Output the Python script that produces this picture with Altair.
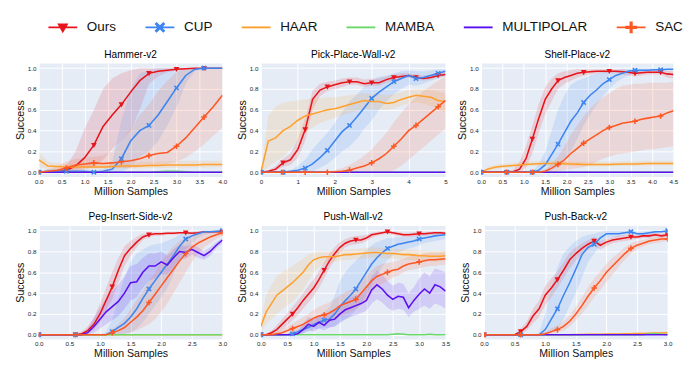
import math
import altair as alt
import pandas as pd

SERIES = ["Ours", "CUP", "HAAR", "MAMBA", "MULTIPOLAR", "SAC"]
COLORS = ["#E8141B", "#3D85F0", "#FFA02E", "#6BD96B", "#5B10F0", "#FF5722"]
MARKED = ["Ours", "CUP", "SAC"]
FONT = "Liberation Sans, Arial, sans-serif"


def grid(step, n):
    return [round(i * step, 3) for i in range(n)]


def Z(n):
    return [0.0] * n


# ---------------- Hammer-v2 (step 0.2) ----------------
hammer_x = grid(0.2, 21)
hammer = {
    "Ours": ([0,0,0.005,0.02,0.06,0.14,0.26,0.44,0.55,0.65,0.77,0.88,0.95,0.97,0.98,0.99,0.995,1,1,1,1],
             [0,0,0,0,0.01,0.03,0.05,0.12,0.22,0.3,0.4,0.6,0.85,0.92,0.96,0.98,0.99,1,1,1,1],
             [0,0,0.02,0.06,0.2,0.42,0.6,0.8,0.9,0.95,0.98,1,1,1,1,1,1,1,1,1,1]),
    "CUP": ([0,0.01,0.01,0.01,0.01,0.01,0.0,0.01,0.03,0.13,0.3,0.4,0.45,0.55,0.68,0.81,0.93,0.99,1,1,1],
            [0,0,0,0,0,0,0,0,0,0,0.05,0.15,0.2,0.3,0.45,0.62,0.85,0.97,1,1,1],
            [0,0.03,0.03,0.03,0.03,0.03,0.02,0.03,0.1,0.5,0.8,0.95,0.98,1,1,1,1,1,1,1,1]),
    "HAAR": ([0.12,0.06,0.055,0.05,0.05,0.05,0.05,0.05,0.055,0.06,0.06,0.06,0.065,0.065,0.07,0.07,0.07,0.07,0.075,0.075,0.075],
             [0.05,0.03,0.03,0.03,0.03,0.03,0.03,0.03,0.03,0.035,0.035,0.035,0.04,0.04,0.04,0.04,0.045,0.045,0.045,0.05,0.05],
             [0.2,0.1,0.09,0.08,0.08,0.08,0.08,0.08,0.085,0.09,0.09,0.095,0.1,0.1,0.1,0.105,0.11,0.11,0.11,0.11,0.11]),
    "MAMBA": (Z(13) + [0.005,0.01,0.01,0.005] + Z(4), Z(21), Z(13) + [0.015,0.02,0.02,0.015] + Z(4)),
    "MULTIPOLAR": (Z(21), Z(21), Z(21)),
    "SAC": ([0,0.01,0.02,0.04,0.07,0.08,0.09,0.085,0.09,0.1,0.11,0.13,0.16,0.18,0.19,0.25,0.33,0.43,0.53,0.63,0.74],
            [0,0,0,0.01,0.03,0.04,0.04,0.04,0.04,0.04,0.04,0.05,0.06,0.07,0.08,0.1,0.14,0.2,0.27,0.35,0.43],
            [0,0.03,0.06,0.1,0.13,0.14,0.15,0.16,0.2,0.3,0.42,0.55,0.65,0.78,0.88,0.96,1,1,1,1,1]),
}

# ---------------- Pick-Place-Wall-v2 (step 0.2) ----------------
ppw_x = grid(0.2, 26)
ppw = {
    "Ours": ([0,0.01,0.03,0.09,0.12,0.22,0.41,0.7,0.79,0.82,0.84,0.86,0.87,0.87,0.85,0.86,0.86,0.89,0.91,0.92,0.93,0.91,0.9,0.91,0.93,0.94],
             [0,0,0.01,0.05,0.07,0.14,0.3,0.6,0.73,0.78,0.8,0.82,0.84,0.84,0.82,0.83,0.83,0.86,0.88,0.9,0.91,0.89,0.88,0.89,0.91,0.92],
             [0,0.02,0.06,0.13,0.18,0.32,0.52,0.78,0.85,0.87,0.88,0.9,0.91,0.91,0.89,0.9,0.9,0.92,0.94,0.95,0.95,0.94,0.93,0.94,0.96,0.96]),
    "CUP": ([0,0,0,0,0.01,0.02,0.04,0.08,0.14,0.21,0.3,0.39,0.45,0.53,0.62,0.71,0.77,0.82,0.87,0.9,0.93,0.9,0.91,0.93,0.95,0.97],
            [0,0,0,0,0,0,0,0.01,0.04,0.08,0.14,0.2,0.25,0.32,0.42,0.5,0.6,0.68,0.75,0.8,0.84,0.83,0.85,0.88,0.9,0.93],
            [0,0,0,0,0.02,0.06,0.12,0.22,0.3,0.38,0.47,0.58,0.68,0.75,0.82,0.88,0.92,0.93,0.95,0.97,0.98,0.97,0.97,0.98,0.99,0.99]),
    "HAAR": ([0,0.3,0.33,0.4,0.44,0.5,0.54,0.56,0.58,0.6,0.61,0.63,0.65,0.67,0.69,0.68,0.68,0.66,0.67,0.7,0.72,0.74,0.73,0.72,0.69,0.68],
             [0,0.05,0.1,0.15,0.22,0.3,0.38,0.43,0.47,0.5,0.52,0.55,0.57,0.59,0.61,0.6,0.6,0.6,0.61,0.64,0.66,0.67,0.66,0.64,0.6,0.58],
             [0,0.55,0.63,0.67,0.68,0.69,0.7,0.71,0.71,0.72,0.72,0.73,0.74,0.75,0.76,0.75,0.75,0.74,0.75,0.77,0.79,0.8,0.8,0.79,0.77,0.76]),
    "MAMBA": (Z(26), Z(26), Z(26)),
    "MULTIPOLAR": (Z(26), Z(26), Z(26)),
    "SAC": (Z(10) + [0.005,0.01,0.02,0.04,0.06,0.09,0.13,0.18,0.25,0.32,0.4,0.45,0.51,0.57,0.63,0.69],
            Z(18) + [0.02,0.06,0.12,0.18,0.24,0.3,0.36,0.42],
            Z(10) + [0.02,0.04,0.07,0.11,0.16,0.22,0.3,0.38,0.48,0.57,0.65,0.72,0.78,0.83,0.88,0.92]),
}

# ---------------- Shelf-Place-v2 (step 0.15) ----------------
shelf_x = grid(0.15, 31)
shelf = {
    "Ours": ([0,0,0,0,0,0.005,0.03,0.13,0.32,0.52,0.7,0.8,0.88,0.91,0.93,0.95,0.96,0.965,0.97,0.97,0.97,0.97,0.965,0.96,0.95,0.955,0.96,0.96,0.96,0.945,0.94],
             [0,0,0,0,0,0,0,0.04,0.18,0.38,0.56,0.68,0.8,0.85,0.88,0.91,0.93,0.94,0.95,0.95,0.95,0.95,0.94,0.93,0.92,0.93,0.94,0.94,0.94,0.91,0.9],
             [0,0,0,0,0.01,0.03,0.1,0.25,0.45,0.66,0.82,0.9,0.95,0.97,0.98,0.99,0.99,0.99,0.99,0.99,0.99,0.99,0.99,0.985,0.98,0.98,0.98,0.985,0.98,0.975,0.97]),
    "CUP": (Z(9) + [0.02,0.07,0.17,0.27,0.38,0.49,0.57,0.67,0.74,0.79,0.85,0.89,0.93,0.95,0.97,0.98,0.98,0.98,0.985,0.985,0.99,0.99],
            Z(9) + [0,0,0.02,0.05,0.12,0.2,0.32,0.45,0.55,0.65,0.73,0.8,0.86,0.9,0.93,0.95,0.96,0.96,0.97,0.97,0.98,0.98],
            Z(8) + [0.01,0.08,0.2,0.4,0.6,0.74,0.84,0.88,0.9,0.93,0.95,0.96,0.97,0.98,0.99,0.99,1,1,1,1,1,1,1]),
    "HAAR": ([0,0.03,0.045,0.055,0.06,0.065,0.07,0.075,0.08,0.082,0.085,0.085,0.085,0.083,0.08,0.078,0.075,0.075,0.075,0.075,0.075,0.077,0.08,0.08,0.08,0.082,0.085,0.085,0.085,0.085,0.085],
             [0,0.01,0.025,0.035,0.04,0.045,0.05,0.055,0.06,0.062,0.065,0.065,0.065,0.063,0.06,0.058,0.055,0.055,0.055,0.055,0.055,0.057,0.06,0.06,0.06,0.062,0.065,0.065,0.065,0.065,0.065],
             [0,0.05,0.07,0.08,0.085,0.09,0.095,0.1,0.105,0.107,0.11,0.11,0.11,0.108,0.105,0.103,0.1,0.1,0.1,0.1,0.1,0.102,0.105,0.105,0.105,0.107,0.11,0.11,0.11,0.11,0.11]),
    "MAMBA": (Z(31), Z(31), Z(31)),
    "MULTIPOLAR": (Z(31), Z(31), Z(31)),
    "SAC": (Z(10) + [0.01,0.04,0.075,0.12,0.18,0.23,0.28,0.32,0.36,0.4,0.43,0.45,0.47,0.48,0.49,0.51,0.52,0.53,0.54,0.57,0.59],
            Z(10) + [0,0,0.01,0.02,0.03,0.04,0.05,0.07,0.1,0.13,0.15,0.17,0.18,0.19,0.2,0.21,0.22,0.22,0.23,0.24,0.25],
            Z(9) + [0.01,0.03,0.08,0.15,0.25,0.36,0.45,0.54,0.61,0.67,0.72,0.76,0.8,0.83,0.84,0.85,0.85,0.86,0.86,0.86,0.86,0.87]),
}

# ---------------- Peg-Insert-Side-v2 (step 0.1) ----------------
peg_x = grid(0.1, 31)
peg = {
    "Ours": (Z(7) + [0.01,0.04,0.1,0.2,0.33,0.46,0.62,0.76,0.83,0.89,0.94,0.96,0.97,0.97,0.975,0.975,0.98,0.98,0.975,0.98,0.99,0.99,0.99,0.99],
             Z(7) + [0,0.01,0.05,0.12,0.23,0.34,0.5,0.66,0.76,0.84,0.91,0.94,0.95,0.95,0.96,0.96,0.965,0.97,0.965,0.97,0.98,0.98,0.98,0.98],
             Z(6) + [0.01,0.03,0.08,0.16,0.3,0.45,0.6,0.74,0.85,0.9,0.94,0.97,0.98,0.985,0.985,0.99,0.99,0.99,0.99,0.99,0.99,1,1,1,1]),
    "CUP": (Z(12) + [0.03,0.07,0.11,0.17,0.25,0.35,0.44,0.52,0.6,0.68,0.76,0.85,0.92,0.95,0.97,0.99,0.99,0.995,1.0],
            Z(12) + [0,0,0.01,0.02,0.06,0.12,0.2,0.28,0.36,0.45,0.58,0.72,0.82,0.88,0.93,0.96,0.97,0.98,0.99],
            Z(11) + [0.03,0.15,0.35,0.55,0.7,0.78,0.82,0.85,0.87,0.88,0.9,0.93,0.96,0.98,0.99,1,1,1,1,1]),
    "HAAR": (Z(31), Z(31), Z(31)),
    "MAMBA": (Z(31), Z(31), Z(31)),
    "MULTIPOLAR": (Z(8) + [0.02,0.08,0.15,0.22,0.27,0.32,0.4,0.5,0.51,0.6,0.66,0.66,0.7,0.67,0.74,0.8,0.79,0.82,0.79,0.76,0.8,0.86,0.91],
                   Z(8) + [0,0.02,0.06,0.1,0.14,0.18,0.25,0.33,0.36,0.45,0.52,0.54,0.58,0.58,0.65,0.72,0.73,0.77,0.74,0.72,0.76,0.83,0.88],
                   Z(7) + [0.01,0.06,0.16,0.26,0.35,0.42,0.48,0.56,0.66,0.68,0.74,0.78,0.78,0.8,0.76,0.82,0.86,0.85,0.87,0.84,0.8,0.84,0.89,0.93]),
    "SAC": (Z(12) + [0.02,0.04,0.07,0.12,0.17,0.23,0.31,0.39,0.47,0.55,0.63,0.71,0.78,0.84,0.88,0.91,0.94,0.96,0.98],
            Z(12) + [0,0,0.01,0.02,0.04,0.07,0.1,0.15,0.22,0.3,0.4,0.5,0.6,0.7,0.78,0.84,0.88,0.92,0.95],
            Z(11) + [0.01,0.05,0.1,0.16,0.25,0.33,0.42,0.52,0.6,0.7,0.78,0.85,0.9,0.94,0.96,0.97,0.98,0.99,0.99,1.0]),
}

# ---------------- Push-Wall-v2 (step 0.1) ----------------
pw_x = grid(0.1, 36)
pw = {
    "Ours": ([0,0,0.02,0.05,0.1,0.15,0.2,0.26,0.33,0.39,0.45,0.53,0.62,0.71,0.78,0.84,0.88,0.9,0.91,0.91,0.93,0.96,0.97,0.98,0.99,0.98,0.97,0.96,0.96,0.965,0.97,0.97,0.975,0.98,0.98,0.975],
             [0,0,0,0.02,0.05,0.09,0.14,0.19,0.25,0.31,0.37,0.45,0.54,0.64,0.72,0.79,0.84,0.86,0.87,0.88,0.9,0.93,0.95,0.96,0.97,0.96,0.95,0.94,0.94,0.945,0.95,0.95,0.955,0.96,0.96,0.955],
             [0,0.01,0.04,0.09,0.15,0.21,0.27,0.33,0.4,0.47,0.53,0.61,0.7,0.78,0.84,0.89,0.92,0.94,0.95,0.95,0.96,0.98,0.99,0.995,1,0.995,0.99,0.98,0.98,0.985,0.99,0.99,0.99,0.995,0.995,0.99]),
    "CUP": (Z(6) + [0.01,0.03,0.05,0.07,0.1,0.12,0.14,0.15,0.2,0.27,0.33,0.38,0.44,0.52,0.6,0.68,0.74,0.79,0.83,0.85,0.87,0.88,0.89,0.9,0.92,0.93,0.94,0.95,0.955,0.96],
            Z(6) + [0,0.01,0.02,0.03,0.05,0.06,0.07,0.07,0.08,0.11,0.15,0.18,0.24,0.3,0.38,0.48,0.57,0.65,0.72,0.76,0.79,0.81,0.83,0.84,0.86,0.88,0.89,0.9,0.91,0.92],
            Z(5) + [0.01,0.03,0.06,0.09,0.12,0.16,0.19,0.22,0.26,0.38,0.52,0.6,0.66,0.71,0.76,0.82,0.86,0.89,0.91,0.93,0.93,0.94,0.94,0.94,0.95,0.96,0.97,0.97,0.98,0.98,0.99]),
    "HAAR": ([0.08,0.22,0.3,0.38,0.42,0.46,0.5,0.55,0.6,0.67,0.72,0.74,0.75,0.75,0.75,0.76,0.77,0.77,0.775,0.78,0.785,0.79,0.79,0.785,0.78,0.78,0.775,0.77,0.77,0.765,0.76,0.76,0.755,0.755,0.755,0.76],
             [0.02,0.1,0.15,0.2,0.24,0.28,0.32,0.37,0.43,0.52,0.6,0.65,0.68,0.69,0.7,0.71,0.72,0.72,0.725,0.73,0.735,0.74,0.74,0.735,0.73,0.73,0.725,0.72,0.72,0.715,0.71,0.71,0.705,0.705,0.705,0.71],
             [0.15,0.38,0.48,0.56,0.6,0.63,0.66,0.7,0.73,0.77,0.79,0.8,0.8,0.8,0.8,0.81,0.82,0.82,0.825,0.83,0.835,0.84,0.84,0.835,0.83,0.83,0.825,0.82,0.82,0.815,0.81,0.81,0.805,0.805,0.805,0.81]),
    "MAMBA": (Z(25) + [0.005,0.01,0.005] + Z(4) + [0.005] + Z(3), Z(36),
              Z(25) + [0.01,0.015,0.01] + Z(4) + [0.01] + Z(3)),
    "MULTIPOLAR": ([0,0,0,0,0,0,0,0.01,0.05,0.1,0.08,0.12,0.09,0.14,0.15,0.2,0.24,0.26,0.28,0.3,0.33,0.43,0.48,0.44,0.38,0.34,0.37,0.36,0.26,0.33,0.39,0.44,0.4,0.48,0.46,0.42],
                   [0,0,0,0,0,0,0,0,0.01,0.04,0.03,0.06,0.04,0.07,0.08,0.12,0.15,0.17,0.19,0.21,0.23,0.3,0.34,0.31,0.26,0.23,0.25,0.24,0.17,0.22,0.25,0.28,0.25,0.3,0.28,0.25],
                   [0,0,0,0,0,0,0.01,0.03,0.1,0.17,0.15,0.19,0.16,0.22,0.24,0.29,0.34,0.36,0.38,0.4,0.44,0.56,0.62,0.58,0.52,0.47,0.5,0.49,0.4,0.46,0.54,0.6,0.56,0.64,0.62,0.6]),
    "SAC": ([0,0,0,0.01,0.02,0.04,0.06,0.08,0.1,0.13,0.16,0.18,0.19,0.21,0.24,0.28,0.3,0.32,0.34,0.4,0.46,0.52,0.56,0.58,0.6,0.62,0.63,0.66,0.68,0.69,0.7,0.71,0.72,0.72,0.725,0.73],
            [0,0,0,0,0,0.01,0.02,0.03,0.04,0.06,0.08,0.1,0.11,0.12,0.15,0.18,0.2,0.22,0.24,0.29,0.35,0.41,0.46,0.49,0.52,0.55,0.57,0.6,0.62,0.63,0.64,0.65,0.66,0.66,0.67,0.67],
            [0,0.01,0.02,0.03,0.05,0.08,0.11,0.14,0.17,0.2,0.24,0.27,0.29,0.31,0.34,0.38,0.41,0.43,0.45,0.51,0.57,0.62,0.66,0.68,0.69,0.7,0.71,0.73,0.75,0.76,0.77,0.78,0.79,0.79,0.79,0.8]),
}

# ---------------- Push-Back-v2 (step 0.1) ----------------
pb_x = grid(0.1, 31)
pb = {
    "Ours": (Z(6) + [0.03,0.08,0.18,0.25,0.38,0.45,0.53,0.62,0.72,0.78,0.83,0.87,0.9,0.86,0.89,0.91,0.92,0.93,0.94,0.94,0.95,0.95,0.96,0.95,0.96],
             Z(6) + [0.01,0.04,0.11,0.17,0.28,0.36,0.45,0.54,0.64,0.71,0.77,0.82,0.85,0.82,0.85,0.88,0.89,0.9,0.91,0.92,0.93,0.93,0.94,0.93,0.94],
             Z(5) + [0.01,0.06,0.13,0.25,0.33,0.47,0.54,0.61,0.7,0.79,0.84,0.88,0.91,0.94,0.9,0.92,0.94,0.95,0.96,0.96,0.96,0.97,0.97,0.98,0.97,0.98]),
    "CUP": (Z(10) + [0.05,0.15,0.25,0.38,0.5,0.63,0.77,0.84,0.87,0.93,0.97,0.97,0.97,0.98,0.99,0.97,0.97,0.98,0.99,0.99,1.0],
            Z(10) + [0,0.02,0.06,0.15,0.28,0.4,0.55,0.7,0.78,0.86,0.93,0.94,0.94,0.96,0.97,0.95,0.95,0.96,0.97,0.98,0.99],
            Z(9) + [0.02,0.2,0.45,0.65,0.78,0.85,0.9,0.94,0.96,0.97,0.99,1,1,1,1,1,0.99,0.99,1,1,1,1]),
    "HAAR": (Z(15) + [0.002,0.003,0.004,0.005,0.005,0.006,0.007,0.008,0.009,0.01,0.012,0.013,0.015,0.016,0.018,0.02],
             Z(15) + [0,0,0,0,0,0,0,0,0,0.002,0.003,0.004,0.005,0.006,0.007,0.008],
             Z(15) + [0.006,0.008,0.01,0.012,0.012,0.014,0.016,0.018,0.02,0.022,0.024,0.026,0.028,0.03,0.032,0.034]),
    "MAMBA": (Z(27) + [0.01,0.01,0.005,0.0], Z(31), Z(27) + [0.02,0.02,0.015,0.01]),
    "MULTIPOLAR": (Z(31), Z(31), Z(31)),
    "SAC": (Z(10) + [0.01,0.03,0.05,0.08,0.13,0.2,0.28,0.37,0.45,0.52,0.6,0.66,0.72,0.78,0.83,0.86,0.88,0.9,0.91,0.92,0.92],
            Z(10) + [0,0.01,0.02,0.04,0.08,0.14,0.2,0.28,0.36,0.43,0.51,0.58,0.65,0.72,0.78,0.82,0.85,0.87,0.88,0.89,0.9],
            Z(9) + [0.01,0.03,0.06,0.09,0.13,0.19,0.27,0.36,0.46,0.54,0.61,0.68,0.74,0.79,0.84,0.88,0.9,0.91,0.93,0.94,0.94,0.95]),
}

# ---------------- marker / legend symbol paths (styles) ----------------
def poly(pts):
    return "M" + "L".join(f"{x:.3f},{y:.3f}" for x, y in pts) + "Z"


def plus_pts(a, w):
    return [(-w, -a), (w, -a), (w, -w), (a, -w), (a, w), (w, w), (w, a), (-w, a),
            (-w, w), (-a, w), (-a, -w), (-w, -w)]


def rot45(pts):
    c = math.sqrt(0.5)
    return [((x - y) * c, (x + y) * c) for x, y in pts]


# chart markers
TRI = poly([(-0.62, -0.5), (0.62, -0.5), (0, 0.62)])
PLUS = poly(plus_pts(0.62, 0.17))
XSH = poly(rot45(plus_pts(0.66, 0.17)))
MARK_SHAPES = {"Ours": TRI, "CUP": XSH, "SAC": PLUS}

# legend symbols (unit = 7px with symbolSize 196; the line spans 30px)
L_LINE = poly([(-2.14, -0.14), (2.14, -0.14), (2.14, 0.14), (-2.14, 0.14)])
L_TRI = poly([(-0.83, -0.57), (0.83, -0.57), (0, 0.86)])
L_X = poly(rot45(plus_pts(0.92, 0.22)))
L_PLUS = poly(plus_pts(0.86, 0.23))
LEG_PATHS = [L_LINE + " " + L_TRI, L_LINE + " " + L_X, L_LINE, L_LINE, L_LINE, L_LINE + " " + L_PLUS]

COLOR_SCALE = alt.Scale(domain=SERIES, range=COLORS)


def build(xs, data):
    rows = []
    for s in SERIES:
        if s not in data:
            continue
        m, lo, hi = data[s]
        assert len(m) == len(xs) and len(lo) == len(xs) and len(hi) == len(xs), (s, len(m), len(lo), len(hi), len(xs))
        for x, a, b, c in zip(xs, m, lo, hi):
            rows.append({"x": x, "series": s, "mean": a, "lo": b, "hi": c})
    return pd.DataFrame(rows)


def panel(title, xs, data, xmax, xticks, xfmt, width, xtitle):
    df = build(xs, data)
    mdf = df[df["series"].isin(MARKED) & df["x"].apply(lambda v: abs(v / 0.6 - round(v / 0.6)) < 1e-6)]
    xs_scale = alt.Scale(domain=[0, xmax], nice=False, zero=False)
    ys_scale = alt.Scale(domain=[-0.04, 1.05], nice=False, zero=False)
    X = alt.X("x:Q", scale=xs_scale,
              axis=alt.Axis(values=xticks, format=xfmt, title=xtitle, labelFlush=False, titleLineHeight=8))

    def Y(f):
        return alt.Y(f"{f}:Q", scale=ys_scale, stack=None,
                     axis=alt.Axis(values=[0, 0.2, 0.4, 0.6, 0.8, 1.0], format=".1f", title="Success"))

    C = alt.Color("series:N", scale=COLOR_SCALE, legend=None)
    base = alt.Chart(df)
    band = base.mark_area(opacity=0.14, clip=True).encode(x=X, y=Y("lo"), y2="hi:Q", color=C)
    line = base.mark_line(strokeWidth=1.6, clip=True).encode(x=X, y=Y("mean"), color=C)
    layers = [band, line]
    for s in MARKED:
        layers.append(
            alt.Chart(mdf[mdf["series"] == s]).mark_point(
                shape=MARK_SHAPES[s], size=90, filled=True, opacity=1, strokeWidth=0, clip=True
            ).encode(x=X, y=Y("mean"), color=C)
        )
    return alt.layer(*layers).properties(
        width=width, height=118,
        title=alt.TitleParams(title, font=FONT, fontSize=10.5, fontWeight="normal", color="#000", offset=3),
    )


XT_TOP = ["Million Samples", ""]   # blank second line keeps the gap above the lower row
XT = "Million Samples"
half = [0, 0.5, 1.0, 1.5, 2.0, 2.5, 3.0, 3.5, 4.0, 4.5]
p1 = panel("Hammer-v2", hammer_x, hammer, 4.0, half[:9], ".1f", 191, XT_TOP)
p2 = panel("Pick-Place-Wall-v2", ppw_x, ppw, 5.0, [0, 1, 2, 3, 4, 5], "d", 192, XT_TOP)
p3 = panel("Shelf-Place-v2", shelf_x, shelf, 4.5, half, ".1f", 200, XT_TOP)
p4 = panel("Peg-Insert-Side-v2", peg_x, peg, 3.0, half[:7], ".1f", 191, XT)
p5 = panel("Push-Wall-v2", pw_x, pw, 3.5, half[:8], ".1f", 192, XT)
p6 = panel("Push-Back-v2", pb_x, pb, 3.0, half[:7], ".1f", 191, XT)

leg_df = pd.DataFrame({"series": SERIES})
leg_cfg = dict(title=None, orient="none", legendX=18, legendY=5, direction="horizontal",
               symbolSize=196, symbolStrokeWidth=0, symbolOpacity=1, labelFont=FONT,
               labelFontSize=14, labelColor="#111", labelOffset=18, columnPadding=30, padding=0)
legend_chart = alt.Chart(leg_df).mark_point(filled=True, opacity=1, clip=True).encode(
    y=alt.value(-100),
    color=alt.Color("series:N", scale=COLOR_SCALE, legend=alt.Legend(**leg_cfg)),
    shape=alt.Shape("series:N", scale=alt.Scale(domain=SERIES, range=LEG_PATHS), legend=alt.Legend(**leg_cfg)),
).properties(width=660, height=26, view=alt.ViewBackground(fill="transparent", stroke="transparent"))

row1 = alt.hconcat(p1, p2, p3, spacing=8)
row2 = alt.hconcat(p4, p5, p6, spacing=8)

chart = alt.vconcat(legend_chart, row1, row2, spacing=8).resolve_scale(
    color="independent", shape="independent"
).properties(
    padding={"left": 6, "top": 0, "right": 0, "bottom": 0}
).configure_view(
    fill="#E5ECF6", stroke="transparent"
).configure_axis(
    grid=True, gridColor="#FFFFFF", gridWidth=1, domain=False, ticks=False,
    labelFont=FONT, labelFontSize=6.5, labelColor="#222", labelPadding=2,
    titleFont=FONT, titleFontSize=11, titleFontWeight="normal", titleColor="#111",
).configure_axisX(titlePadding=1).configure_axisY(titlePadding=2, labelPadding=3)

chart.save("out.html", embed_options={"renderer": "svg", "actions": False})
